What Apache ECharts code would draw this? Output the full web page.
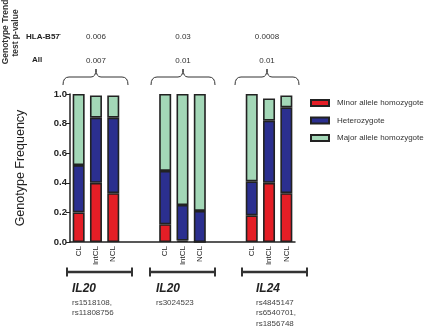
<!DOCTYPE html>
<html>
<head>
<meta charset="utf-8">
<script src="https://cdn.jsdelivr.net/npm/echarts@6/dist/echarts.min.js"></script>
<style>
  html, body { margin: 0; padding: 0; background: #fff; }
  #chart { width: 425px; height: 329px; }
</style>
</head>
<body>
<div id="chart"></div>
<script>
// categories (blank slots separate the three groups)
var categories = ['CL', 'IntCL', 'NCL', '', '', 'CL', 'IntCL', 'NCL', '', '', 'CL', 'IntCL', 'NCL'];
var minorHomo = [0.20, 0.40, 0.33, '-', '-', 0.12, 0.01, 0.00, '-', '-', 0.18, 0.40, 0.33];
var hetero    = [0.32, 0.44, 0.51, '-', '-', 0.36, 0.24, 0.21, '-', '-', 0.23, 0.42, 0.58];
var majorHomo = [0.48, 0.15, 0.15, '-', '-', 0.52, 0.75, 0.79, '-', '-', 0.59, 0.15, 0.08];
var seriesNames = ['Minor allele homozygote', 'Heterozygote', 'Major allele homozygote'];
var yTicks = [0, 0.2, 0.4, 0.6, 0.8, 1.0];

// annotation text per group
var pB57 = ['0.006', '0.03', '0.0008'];
var pAll = ['0.007', '0.01', '0.01'];
var genes = ['IL20', 'IL20', 'IL24'];
var snps = [['rs1518108,', 'rs11808756'], ['rs3024523'], ['rs4845147', 'rs6540701,', 'rs1856748']];

var font = 'Arial, "Liberation Sans", sans-serif';
var colors = ['#e41e26', '#2b2f8f', '#a3d7b7'];
var chart = echarts.init(document.getElementById('chart'));

var graphics = [];
// top-left title
graphics.push({ type: 'text', x: 6, y: 32, rotation: Math.PI / 2,
  style: { text: 'Genotype Trend', font: 'bold 8.5px ' + font, fill: '#333', align: 'center', verticalAlign: 'middle' } });
graphics.push({ type: 'text', x: 16, y: 33, rotation: Math.PI / 2,
  style: { text: 'test p-value', font: 'bold 8.5px ' + font, fill: '#333', align: 'center', verticalAlign: 'middle' } });
graphics.push({ type: 'text', x: 26, y: 37,
  style: { text: 'HLA-B57', font: 'bold 8px ' + font, fill: '#222', verticalAlign: 'middle' } });
graphics.push({ type: 'text', x: 59, y: 34,
  style: { text: '-', font: 'bold 6px ' + font, fill: '#222', verticalAlign: 'middle' } });
graphics.push({ type: 'text', x: 32, y: 60,
  style: { text: 'All', font: 'bold 8px ' + font, fill: '#222', verticalAlign: 'middle' } });

function seg(x1, y1, x2, y2, w) {
  return { type: 'line', shape: { x1: x1, y1: y1, x2: x2, y2: y2 },
    style: { stroke: '#333', lineWidth: w } };
}
function curve(x1, y1, cx, cy, x2, y2) {
  return { type: 'bezierCurve', shape: { x1: x1, y1: y1, cpx1: cx, cpy1: cy, x2: x2, y2: y2 },
    style: { stroke: '#333', lineWidth: 1, fill: null } };
}

var braceX = [[63, 96, 128], [151, 183, 215], [235, 267, 299]];
var lineX = [[67, 132], [150, 215], [242, 307]];
var geneX = [72, 156, 256];
for (var g = 0; g < 3; g++) {
  var b = braceX[g];
  graphics.push({ type: 'text', x: b[1], y: 37,
    style: { text: pB57[g], font: '8px ' + font, fill: '#333', align: 'center', verticalAlign: 'middle' } });
  graphics.push({ type: 'text', x: b[1], y: 61,
    style: { text: pAll[g], font: '8px ' + font, fill: '#333', align: 'center', verticalAlign: 'middle' } });
  // curly brace
  graphics.push(curve(b[0], 85, b[0], 77, b[0] + 6, 77));
  graphics.push(seg(b[0] + 6, 77, b[1] - 5, 77, 1));
  graphics.push(curve(b[1] - 5, 77, b[1], 77, b[1], 69));
  graphics.push(curve(b[1], 69, b[1], 77, b[1] + 5, 77));
  graphics.push(seg(b[1] + 5, 77, b[2] - 6, 77, 1));
  graphics.push(curve(b[2] - 6, 77, b[2], 77, b[2], 85));
  // group bar under the axis
  var l = lineX[g];
  graphics.push(seg(l[0], 272, l[1], 272, 2.5));
  graphics.push(seg(l[0], 267.5, l[0], 276.5, 2));
  graphics.push(seg(l[1], 267.5, l[1], 276.5, 2));
  graphics.push({ type: 'text', x: geneX[g], y: 289,
    style: { text: genes[g], font: 'italic bold 12px ' + font, fill: '#222', verticalAlign: 'middle' } });
  for (var s = 0; s < snps[g].length; s++) {
    graphics.push({ type: 'text', x: geneX[g], y: 302.7 + s * 10.3,
      style: { text: snps[g][s], font: '8px ' + font, fill: '#444', verticalAlign: 'middle' } });
  }
}

function barSeries(name, data, color) {
  return {
    name: name,
    type: 'bar',
    stack: 'geno',
    barWidth: 12,
    data: data,
    itemStyle: { color: color, borderColor: '#222', borderWidth: 1.6 }
  };
}

var option = {
  animation: false,
  textStyle: { fontFamily: font },
  grid: { left: 70, right: 130, top: 94, bottom: 87 },
  legend: {
    orient: 'vertical',
    left: 310,
    top: 98,
    padding: 0,
    itemWidth: 18,
    itemHeight: 6,
    itemGap: 7.5,
    icon: 'rect',
    data: seriesNames,
    textStyle: { fontSize: 8, color: '#333', lineHeight: 10, padding: [0, 0, 0, 3] }
  },
  xAxis: {
    type: 'category',
    data: categories,
    axisLine: { lineStyle: { color: '#222', width: 1.5 } },
    axisTick: { show: false },
    axisLabel: { rotate: 90, fontSize: 8, color: '#222', margin: 4, interval: 0 }
  },
  yAxis: {
    type: 'value',
    min: yTicks[0],
    max: yTicks[yTicks.length - 1],
    interval: 0.2,
    name: 'Genotype Frequency',
    nameLocation: 'middle',
    nameGap: 43,
    nameTextStyle: { fontSize: 12.5, color: '#222' },
    splitLine: { show: false },
    axisLine: { show: true, lineStyle: { color: '#222', width: 1.5 } },
    axisTick: { show: true, length: 4, lineStyle: { color: '#222' } },
    axisLabel: { fontSize: 9.5, fontWeight: 'bold', color: '#222', margin: 3,
      formatter: function (v) { return v.toFixed(1); } }
  },
  graphic: graphics,
  series: [
    barSeries(seriesNames[0], minorHomo, colors[0]),
    barSeries(seriesNames[1], hetero, colors[1]),
    barSeries(seriesNames[2], majorHomo, colors[2])
  ]
};
chart.setOption(option);
</script>
</body>
</html>
